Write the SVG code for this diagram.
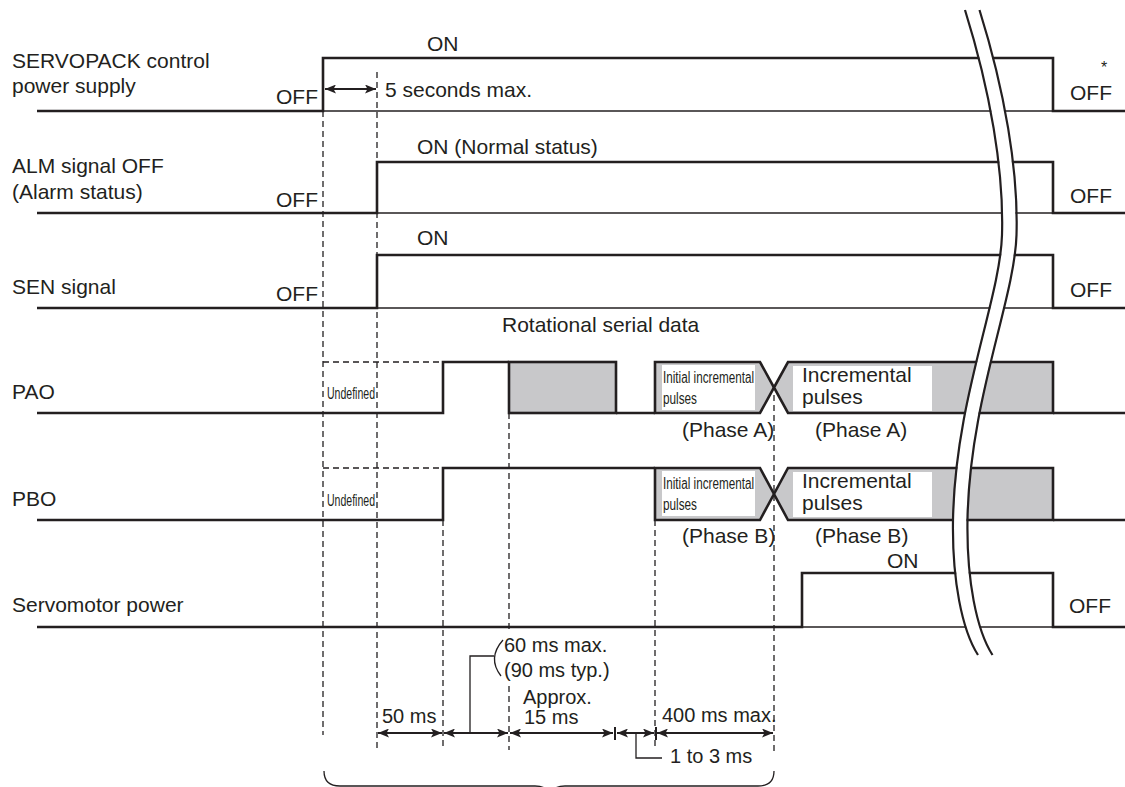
<svg xmlns="http://www.w3.org/2000/svg" width="1125" height="787" viewBox="0 0 1125 787">
<defs>
<style>
.sig{fill:none;stroke:#231f20;stroke-width:2.6;stroke-linejoin:miter}
.box{fill:#c8c8ca;stroke:#231f20;stroke-width:2.6;stroke-linejoin:miter}
.thin{fill:none;stroke:#231f20;stroke-width:1.3}
.dash{fill:none;stroke:#231f20;stroke-width:1.3;stroke-dasharray:6 4}
.dim{fill:none;stroke:#231f20;stroke-width:2}
.t{font-family:"Liberation Sans",Arial,sans-serif;font-size:21px;fill:#231f20}
.s{font-family:"Liberation Sans",Arial,sans-serif;font-size:20px;fill:#231f20}
.c{font-family:"Liberation Sans",Arial,sans-serif;font-size:16px;fill:#231f20}
.wb{fill:#ffffff;stroke:none}
</style>
<marker id="ah" viewBox="0 0 11 9" markerWidth="11" markerHeight="9" refX="11" refY="4.5" orient="auto-start-reverse" markerUnits="userSpaceOnUse">
<path d="M0,0 L11,4.5 L0,9 L2.5,4.5 Z" fill="#231f20"/>
</marker>
<path id="brk" d="M965,10 C990,90 1004,170 1002,235 C1000,300 955,400 953,520 C952,580 962,630 978,655"/>
</defs>

<g id="guides">
<path class="dash" d="M323,111 V735 M377,72 V750 M443,520 V750 M509,413 V632 M509,686 V750 M655,520 V750 M774,395 V752"/>
<path class="dash" d="M323,362 H443 M323,468 H443"/>
</g>

<g id="row-servopack">
<text class="t" x="12" y="68">SERVOPACK control</text>
<text class="t" x="12" y="93">power supply</text>
<text class="t" x="276" y="104">OFF</text>
<text class="t" x="427" y="51">ON</text>
<path class="thin" d="M323,111 H1053"/>
<path class="sig" d="M37,111 H323 V58 H1053 V111 H1125"/>
<text class="c" x="1101" y="73">*</text>
<text class="t" x="1070" y="100">OFF</text>
</g>

<g id="row-alm">
<text class="t" x="12" y="173">ALM signal OFF</text>
<text class="t" x="12" y="199">(Alarm status)</text>
<text class="t" x="276" y="207">OFF</text>
<text class="t" x="417" y="154">ON (Normal status)</text>
<path class="thin" d="M377,213 H1053"/>
<path class="sig" d="M37,213 H377 V162 H1053 V213 H1125"/>
<text class="t" x="1070" y="203">OFF</text>
</g>

<g id="row-sen">
<text class="t" x="12" y="294">SEN signal</text>
<text class="t" x="276" y="301">OFF</text>
<text class="t" x="417" y="245">ON</text>
<path class="thin" d="M377,308 H1053"/>
<path class="sig" d="M37,308 H377 V255 H1053 V308 H1125"/>
<text class="t" x="1070" y="297">OFF</text>
<text class="t" x="502" y="332">Rotational serial data</text>
</g>

<g id="row-pao">
<text class="t" x="12" y="399">PAO</text>
<text class="c" x="327" y="399" textLength="48" lengthAdjust="spacingAndGlyphs">Undefined</text>
<path class="sig" d="M37,413 H443 V362 H509"/>
<rect class="box" x="509" y="362" width="107" height="51"/>
<path class="sig" d="M616,413 H655"/>
<path class="box" d="M655,362 H760 L774,387.5 L760,413 H655 Z"/>
<path class="box" d="M774,387.5 L788,362 H1053 V413 H788 Z"/>
<path class="sig" d="M1053,413 H1125"/>
<rect class="wb" x="662" y="365" width="93" height="45"/>
<rect class="wb" x="793" y="366" width="139" height="45"/>
<text class="c" x="663" y="383" textLength="91" lengthAdjust="spacingAndGlyphs">Initial incremental</text>
<text class="c" x="663" y="404" textLength="34" lengthAdjust="spacingAndGlyphs">pulses</text>
<text class="t" x="802" y="382" font-size="20.5">Incremental</text>
<text class="t" x="802" y="404" font-size="20.5">pulses</text>
<text class="t" x="682" y="437">(Phase A)</text>
<text class="t" x="815" y="437">(Phase A)</text>
</g>

<g id="row-pbo">
<text class="t" x="12" y="506">PBO</text>
<text class="c" x="327" y="506" textLength="48" lengthAdjust="spacingAndGlyphs">Undefined</text>
<path class="sig" d="M37,520 H443 V468 H655"/>
<path class="box" d="M655,468 H760 L774,494 L760,520 H655 Z"/>
<path class="box" d="M774,494 L788,468 H1053 V520 H788 Z"/>
<path class="sig" d="M1053,520 H1125"/>
<rect class="wb" x="662" y="471" width="93" height="45"/>
<rect class="wb" x="793" y="472" width="139" height="45"/>
<text class="c" x="663" y="489" textLength="91" lengthAdjust="spacingAndGlyphs">Initial incremental</text>
<text class="c" x="663" y="510" textLength="34" lengthAdjust="spacingAndGlyphs">pulses</text>
<text class="t" x="802" y="488" font-size="20.5">Incremental</text>
<text class="t" x="802" y="510" font-size="20.5">pulses</text>
<text class="t" x="682" y="543">(Phase B)</text>
<text class="t" x="815" y="543">(Phase B)</text>
</g>

<g id="row-servomotor">
<text class="t" x="12" y="612">Servomotor power</text>
<text class="t" x="887" y="568">ON</text>
<path class="thin" d="M802,627 H1053"/>
<path class="sig" d="M37,627 H802 V573 H1053 V627 H1125"/>
<text class="t" x="1069" y="613">OFF</text>
</g>

<g id="break">
<use href="#brk" transform="translate(7.25,0)" fill="none" stroke="#ffffff" stroke-width="12.5"/>
<use href="#brk" fill="none" stroke="#231f20" stroke-width="2.2"/>
<use href="#brk" transform="translate(14.5,0)" fill="none" stroke="#231f20" stroke-width="2.2"/>
</g>

<g id="connectors">
<path class="dim" d="M325,89 H376" marker-start="url(#ah)" marker-end="url(#ah)"/>
<path class="dim" d="M378,733 H442" marker-start="url(#ah)" marker-end="url(#ah)"/>
<path class="dim" d="M444,733 H508" marker-start="url(#ah)" marker-end="url(#ah)"/>
<path class="dim" d="M510,733 H613" marker-start="url(#ah)" marker-end="url(#ah)"/>
<path class="dim" d="M617,733 H654" marker-start="url(#ah)" marker-end="url(#ah)"/>
<path class="dim" d="M657,733 H773" marker-start="url(#ah)" marker-end="url(#ah)"/>
<path class="dim" d="M615,727 V740 M656,727 V740" stroke-width="2.2"/>
<path class="thin" d="M470,733 V656 H494"/>
<path class="thin" d="M503,640 Q487,658 501,676"/>
<path class="thin" d="M636,733 V758 H662"/>
<path class="thin" d="M324,771 Q324,786 340,786 H535 Q548,786 550,796 Q552,786 565,786 H758 Q774,786 774,771"/>
</g>

<g id="dim-labels">
<text class="s" x="382" y="723">50 ms</text>
<text class="s" x="504" y="652">60 ms max.</text>
<text class="s" x="504" y="677">(90 ms typ.)</text>
<text class="s" x="523" y="704" font-size="19.5">Approx.</text>
<text class="s" x="524" y="724" font-size="19.5">15 ms</text>
<text class="s" x="662" y="722" font-size="19">400 ms max.</text>
<text class="s" x="670" y="763">1 to 3 ms</text>
<text class="t" x="385" y="97">5 seconds max.</text>
</g>
</svg>
